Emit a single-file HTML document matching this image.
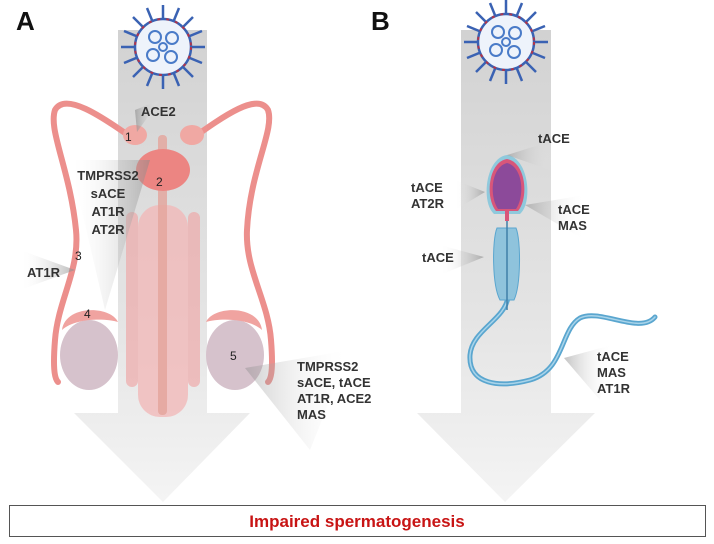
<!DOCTYPE html>
<html><head><style>
body{margin:0;background:#fff;width:714px;height:544px;overflow:hidden;font-family:"Liberation Sans",sans-serif}
</style></head><body>
<svg width="714" height="544" viewBox="0 0 714 544" xmlns="http://www.w3.org/2000/svg" font-family="Liberation Sans, sans-serif" style="display:block">
<defs>
<linearGradient id="g" gradientUnits="userSpaceOnUse" x1="0" y1="30" x2="0" y2="502"><stop offset="0" stop-color="#d2d2d2"/><stop offset="0.6" stop-color="#e4e4e4"/><stop offset="1" stop-color="#f4f4f4"/></linearGradient>
<linearGradient id="w" x1="0" y1="0" x2="1" y2="0"><stop offset="0" stop-color="#fff" stop-opacity="0"/><stop offset="1" stop-color="#888"/></linearGradient>
<linearGradient id="wr" x1="1" y1="0" x2="0" y2="0"><stop offset="0" stop-color="#fff" stop-opacity="0"/><stop offset="1" stop-color="#888"/></linearGradient>
<g id="virus">
<g stroke="#3a62b3" stroke-width="2.5">
<line x1="0" y1="-42" x2="0" y2="42"/><line x1="-42" y1="0" x2="42" y2="0"/>
<line x1="-30" y1="-30" x2="30" y2="30"/><line x1="-30" y1="30" x2="30" y2="-30"/>
<line x1="-16" y1="-39" x2="16" y2="39"/><line x1="-39" y1="-16" x2="39" y2="16"/>
<line x1="-16" y1="39" x2="16" y2="-39"/><line x1="-39" y1="16" x2="39" y2="-16"/>
</g>
<circle r="28" fill="#eef3fb" stroke="#3a62b3" stroke-width="2.5"/>
<circle r="28" fill="none" stroke="#b0354a" stroke-width="2" stroke-dasharray="3 6"/>
<g fill="none" stroke="#4a7bc8" stroke-width="2">
<circle cx="-8" cy="-10" r="6"/><circle cx="9" cy="-9" r="6"/><circle cx="-10" cy="8" r="6"/><circle cx="8" cy="10" r="6"/><circle cx="0" cy="0" r="4"/>
</g>
</g>
</defs>
<!-- arrow A -->
<path d="M118 30 H207 V413 H250 L163 502 L74 413 H118 Z" fill="url(#g)"/>
<!-- arrow B -->
<path d="M461 30 H551 V413 H595 L505 502 L417 413 H461 Z" fill="url(#g)"/>
<!-- reproductive A -->
<g fill="none" stroke="#ec8f8c" stroke-width="6" stroke-linecap="round">
<path d="M135 140 C100 115 65 92 55 110 C48 130 70 170 76 230 C80 270 58 300 55 340 C53 365 54 378 58 382"/>
<path d="M190 140 C225 115 258 92 268 110 C275 130 250 170 247 230 C245 270 268 300 271 340 C273 365 272 378 268 382"/>
</g>
<rect x="138" y="205" width="50" height="212" rx="22" fill="#f2b5b5" opacity="0.75"/>
<rect x="126" y="212" width="12" height="175" rx="6" fill="#eea4a4" opacity="0.65"/>
<rect x="188" y="212" width="12" height="175" rx="6" fill="#eea4a4" opacity="0.65"/>
<rect x="158" y="135" width="9" height="280" rx="4" fill="#e4a49b" opacity="0.8"/>
<ellipse cx="163" cy="170" rx="27" ry="21" fill="#ec8582"/>
<ellipse cx="135" cy="135" rx="12" ry="10" fill="#f0a8a3"/>
<ellipse cx="192" cy="135" rx="12" ry="10" fill="#f0a8a3"/>
<ellipse cx="89" cy="355" rx="29" ry="35" fill="#d6c2cc"/>
<ellipse cx="235" cy="355" rx="29" ry="35" fill="#d6c2cc"/>
<path d="M62 330 C65 305 110 305 118 322 C105 318 75 318 62 330Z" fill="#f0a3a0"/>
<path d="M262 330 C259 305 214 305 206 322 C219 318 249 318 262 330Z" fill="#f0a3a0"/>
<!-- wedges A -->
<path d="M160 100 L137 132 L135 110Z" fill="url(#wr)" opacity="0.6"/>
<path d="M70 160 L150 160 L105 310Z" fill="url(#w)" opacity="0.5"/>
<path d="M20 250 L75 270 L20 290Z" fill="url(#w)" opacity="0.6"/>
<path d="M350 350 L245 368 L310 450Z" fill="url(#wr)" opacity="0.4"/>
<!-- sperm B -->
<path d="M508 297 C505 320 472 330 470 355 C468 385 500 388 530 380 C565 370 560 330 580 318 C600 308 640 335 655 317" fill="none" stroke="#5aa6cf" stroke-width="5" stroke-linecap="round"/>
<path d="M508 297 C505 320 472 330 470 355 C468 385 500 388 530 380 C565 370 560 330 580 318 C600 308 640 335 655 317" fill="none" stroke="#a9d4ea" stroke-width="1.5" stroke-linecap="round"/>
<path d="M497 228 C492 240 492 285 500 300 L514 300 C521 285 521 240 516 228Z" fill="#8fc3dc" stroke="#5aa6cf"/>
<line x1="507" y1="218" x2="507" y2="310" stroke="#3f7ea8" stroke-width="1.5"/>
<path d="M507 155 C485 158 481 203 494 214 L520 214 C533 203 529 158 507 155Z" fill="#8fc9dc"/>
<path d="M507 159 C488 162 485 198 496 211 L518 211 C529 198 526 162 507 159Z" fill="#d8567a"/>
<path d="M507 163 C491 167 489 196 498 209 L516 209 C525 196 523 167 507 163Z" fill="#8c4a9a"/>
<rect x="505" y="211" width="4" height="10" fill="#d8567a"/>
<!-- wedges B -->
<path d="M555 140 L507 155 L550 170Z" fill="url(#wr)" opacity="0.5"/>
<path d="M455 180 L485 192 L455 210Z" fill="url(#w)" opacity="0.6"/>
<path d="M585 195 L525 205 L585 240Z" fill="url(#wr)" opacity="0.5"/>
<path d="M440 245 L484 257 L440 275Z" fill="url(#w)" opacity="0.6"/>
<path d="M612 345 L564 358 L600 400Z" fill="url(#wr)" opacity="0.5"/>
<use href="#virus" transform="translate(163,47)"/>
<use href="#virus" transform="translate(506,42)"/>
<!-- labels -->
<g font-weight="bold" fill="#111">
<text x="16" y="30" font-size="26">A</text>
<text x="371" y="30" font-size="26">B</text>
</g>
<g font-weight="bold" fill="#333" font-size="13">
<text x="141" y="116">ACE2</text>
<g text-anchor="middle"><text x="108" y="180">TMPRSS2</text><text x="108" y="198">sACE</text><text x="108" y="216">AT1R</text><text x="108" y="234">AT2R</text></g>
<text x="27" y="277">AT1R</text>
<text x="297" y="371">TMPRSS2</text><text x="297" y="387">sACE, tACE</text><text x="297" y="403">AT1R, ACE2</text><text x="297" y="419">MAS</text>
<text x="538" y="143">tACE</text>
<text x="411" y="192">tACE</text><text x="411" y="208">AT2R</text>
<text x="558" y="214">tACE</text><text x="558" y="230">MAS</text>
<text x="422" y="262">tACE</text>
<text x="597" y="361">tACE</text><text x="597" y="377">MAS</text><text x="597" y="393">AT1R</text>
</g>
<g font-size="12" fill="#222">
<text x="125" y="141">1</text><text x="156" y="186">2</text><text x="75" y="260">3</text><text x="84" y="318">4</text><text x="230" y="360">5</text>
</g>
<rect x="9.5" y="505.5" width="696" height="31" fill="#fff" stroke="#555"/>
<text x="357" y="527" text-anchor="middle" fill="#c81414" font-weight="bold" font-size="17">Impaired spermatogenesis</text>
</svg>
</body></html>
